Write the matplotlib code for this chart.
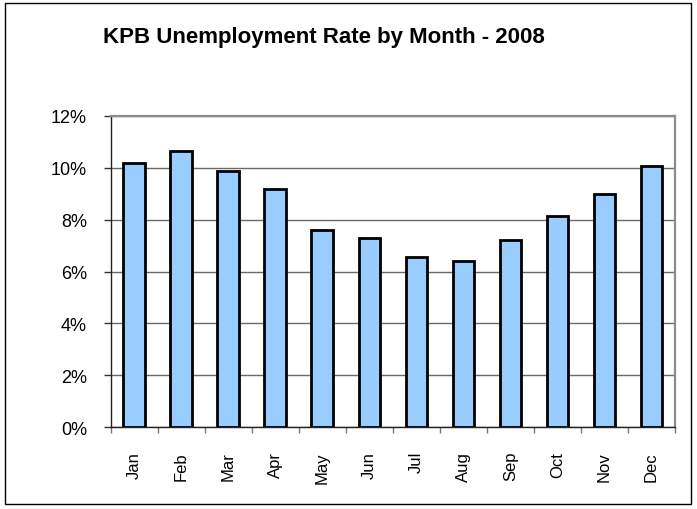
import matplotlib
matplotlib.use("Agg")
import matplotlib.pyplot as plt
from matplotlib.patches import Rectangle
from matplotlib.ticker import FuncFormatter, FixedLocator

months = ["Jan", "Feb", "Mar", "Apr", "May", "Jun", "Jul", "Aug", "Sep", "Oct", "Nov", "Dec"]
rates = [10.18, 10.65, 9.88, 9.18, 7.59, 7.30, 6.56, 6.42, 7.22, 8.15, 9.00, 10.05]
yticks = [0, 2, 4, 6, 8, 10, 12]
title = "KPB Unemployment Rate by Month - 2008"

plt.rcParams['font.family'] = ['Liberation Sans', 'DejaVu Sans']

W, H = 697, 510
fig = plt.figure(figsize=(W / 100, H / 100), dpi=100)
ax = fig.add_axes([110.7 / W, 1 - 428.3 / H, (675 - 110.7) / W, (428.3 - 116.7) / H])

x = list(range(len(months)))
ax.bar(x, rates, width=0.46, color="#99ccff", edgecolor="black", linewidth=2.0, zorder=3)

ax.set_xlim(-0.5, len(months) - 0.5)
ax.set_ylim(0, 12)
ax.set_yticks(yticks)
ax.yaxis.set_major_formatter(FuncFormatter(lambda v, p: f"{int(v)}%"))
ax.yaxis.grid(True, color="#6a6a6a", linewidth=1.0, zorder=0)

ax.set_xticks(x)
ax.set_xticklabels(months, rotation=90, fontsize=12, va="top")
ax.tick_params(axis="x", which="major", length=0, pad=17)
ax.xaxis.set_minor_locator(FixedLocator([i - 0.5 for i in range(len(months) + 1)]))
ax.tick_params(axis="x", which="minor", length=4, width=1, color="#777777", direction="out")
ax.tick_params(axis="y", length=5, width=1, color="#333333", direction="out", labelsize=13, pad=12)

for s in ["left", "bottom"]:
    ax.spines[s].set_color("#222222")
    ax.spines[s].set_linewidth(1.0)
for s in ["top", "right"]:
    ax.spines[s].set_color("#8c8c8c")
    ax.spines[s].set_linewidth(1.6)

fig.text(103 / W, 1 - 38 / H, title, ha="left", va="center", fontsize=16, fontweight="bold")

fig.patches.append(Rectangle((5 / W, 1 - 505 / H), (691 - 5) / W, (505 - 4) / H,
                             transform=fig.transFigure, fill=False,
                             edgecolor="black", linewidth=1.0))

fig.savefig("out.png", dpi=100)
